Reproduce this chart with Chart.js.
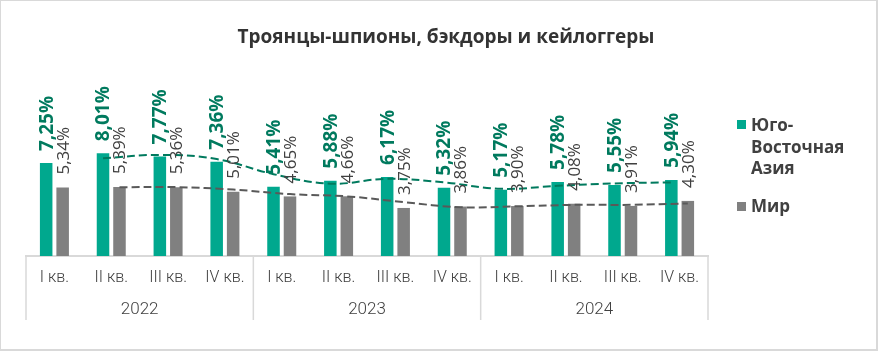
<!DOCTYPE html>
<html lang="ru">
<head>
<meta charset="utf-8">
<title>Троянцы-шпионы, бэкдоры и кейлоггеры</title>
<script src="https://cdn.jsdelivr.net/npm/chart.js@4/dist/chart.umd.min.js"></script>
<style>
  body { margin: 0; background: #fff; }
  .wrap { position: relative; width: 878px; height: 351px; }
  .frame {
    position: absolute; left: 0; top: 0; right: 0; bottom: 0;
    border: 1px solid #d9d9d9; border-right-width: 2px; border-bottom-width: 2px;
    pointer-events: none;
  }
</style>
</head>
<body>
<div class="wrap">
  <canvas id="chart" width="878" height="351"></canvas>
  <div class="frame"></div>
</div>
<script>
// Data
const chartTitle = 'Троянцы-шпионы, бэкдоры и кейлоггеры';
const quarters = ['I кв.', 'II кв.', 'III кв.', 'IV кв.', 'I кв.', 'II кв.', 'III кв.', 'IV кв.', 'I кв.', 'II кв.', 'III кв.', 'IV кв.'];
const years = ['2022', '2023', '2024'];
const seaLabel = 'Юго-Восточная Азия';
const seaLegend = ['Юго-', 'Восточная', 'Азия'];
const worldLabel = 'Мир';
const seaValues = [7.25, 8.01, 7.77, 7.36, 5.41, 5.88, 6.17, 5.32, 5.17, 5.78, 5.55, 5.94];
const worldValues = [5.34, 5.39, 5.36, 5.01, 4.65, 4.66, 3.75, 3.86, 3.90, 4.08, 3.91, 4.30];

const GREEN = '#00a88e';
const GREEN_DARK = '#007a5e';
const GREY = '#808080';
const GREY_DARK = '#595959';
const TEXT = '#404040';
const AXIS_FONT = 'Roboto';

// bars sit on a numeric index axis (0..11) so the trendlines can share it
function toPoints(values) {
    return values.map((v, i) => ({ x: i, y: v }));
}

// Excel-style trendline: 2-period moving average, drawn at each bar's own x
function movingAverage(values, shift) {
    const pts = [];
    for (let i = 1; i < values.length; i++) {
        pts.push({ x: i + shift, y: (values[i - 1] + values[i]) / 2 });
    }
    return pts;
}

function fmt(v) {
    return v.toFixed(2).replace('.', ',') + '%';
}

// Title, value labels, year groups and legend
const decorations = {
    id: 'decorations',
    afterDatasetsDraw(chart) {
        const ctx = chart.ctx;
        const xs = chart.scales.x;
        const area = chart.chartArea;

        // rotated value labels
        [[0, 'bold 19px "Open Sans"', GREEN_DARK, 12], [1, '17px "Open Sans"', TEXT, 13]].forEach(([di, font, color, gap]) => {
            const meta = chart.getDatasetMeta(di);
            meta.data.forEach((bar, i) => {
                ctx.save();
                ctx.translate(bar.x, bar.y - gap);
                ctx.rotate(-Math.PI / 2);
                ctx.font = font;
                ctx.fillStyle = color;
                ctx.textAlign = 'left';
                ctx.textBaseline = 'middle';
                ctx.fillText(fmt(meta._parsed[i].y), 0, 1);
                ctx.restore();
            });
        });

        // year dividers and labels
        const step = (area.right - area.left) / quarters.length;
        ctx.save();
        ctx.strokeStyle = '#d9d9d9';
        ctx.lineWidth = 1.5;
        for (let g = 0; g <= years.length; g++) {
            const x = g < years.length ? xs.getPixelForValue(g * 4) - step / 2 : area.right;
            ctx.beginPath();
            ctx.moveTo(x, area.bottom);
            ctx.lineTo(x, area.bottom + 64);
            ctx.stroke();
        }
        ctx.font = '300 17px ' + AXIS_FONT;
        ctx.fillStyle = TEXT;
        ctx.textAlign = 'center';
        ctx.textBaseline = 'middle';
        years.forEach((y, g) => {
            const x = (xs.getPixelForValue(g * 4) + xs.getPixelForValue(g * 4 + 3)) / 2;
            ctx.fillText(y, x, area.bottom + 54);
        });

        // title
        ctx.font = 'bold 19px "Open Sans"';
        ctx.fillStyle = '#333333';
        ctx.textBaseline = 'alphabetic';
        ctx.fillText(chartTitle, 446, 43);

        // legend
        ctx.textAlign = 'left';
        ctx.font = 'bold 17px "Open Sans"';
        ctx.fillStyle = GREEN;
        ctx.fillRect(737, 120, 9, 9);
        ctx.fillStyle = TEXT;
        seaLegend.forEach((line, i) => ctx.fillText(line, 751, 131 + i * 21.5));
        ctx.fillStyle = GREY;
        ctx.fillRect(737, 202, 9, 9);
        ctx.fillStyle = TEXT;
        ctx.fillText(worldLabel, 751, 212);
        ctx.restore();
    }
};

new Chart(document.getElementById('chart'), {
    data: {
        labels: quarters,
        datasets: [
            {
                type: 'bar',
                label: seaLabel,
                xAxisID: 'xt',
                data: toPoints(seaValues),
                backgroundColor: GREEN,
                categoryPercentage: 0.58,
                barPercentage: 0.76,
                order: 2
            },
            {
                type: 'bar',
                label: worldLabel,
                xAxisID: 'xt',
                data: toPoints(worldValues),
                backgroundColor: GREY,
                categoryPercentage: 0.58,
                barPercentage: 0.76,
                order: 2
            },
            {
                type: 'line',
                label: 'trend-sea',
                xAxisID: 'xt',
                data: movingAverage(seaValues, -0.145),
                borderColor: GREEN_DARK,
                borderWidth: 2,
                borderDash: [8, 4],
                pointRadius: 0,
                tension: 0.4,
                order: 1
            },
            {
                type: 'line',
                label: 'trend-world',
                xAxisID: 'xt',
                data: movingAverage(worldValues, 0.145),
                borderColor: GREY_DARK,
                borderWidth: 2,
                borderDash: [8, 4],
                pointRadius: 0,
                tension: 0.4,
                order: 1
            }
        ]
    },
    options: {
        responsive: false,
        animation: false,
        layout: {
            padding: { top: 51, left: 26, right: 170, bottom: 0 }
        },
        plugins: {
            legend: { display: false },
            title: { display: false },
            tooltip: { enabled: false }
        },
        scales: {
            x: {
                type: 'category',
                offset: true,
                grid: { display: false, drawTicks: false },
                border: { color: '#d9d9d9', width: 2 },
                ticks: {
                    color: TEXT,
                    font: { family: AXIS_FONT, size: 16, weight: '300' },
                    padding: 12,
                    maxRotation: 0,
                    autoSkip: false
                },
                afterFit: function(scale) {
                    scale.height = 95;
                }
            },
            xt: {
                type: 'linear',
                display: false,
                offset: false,
                grid: { offset: false },
                min: -0.5,
                max: 11.5,
                afterBuildTicks: function(scale) {
                    scale.ticks = quarters.map((q, i) => ({ value: i }));
                }
            },
            y: {
                display: false,
                min: 0,
                max: 16
            }
        }
    },
    plugins: [decorations]
});
</script>
</body>
</html>
